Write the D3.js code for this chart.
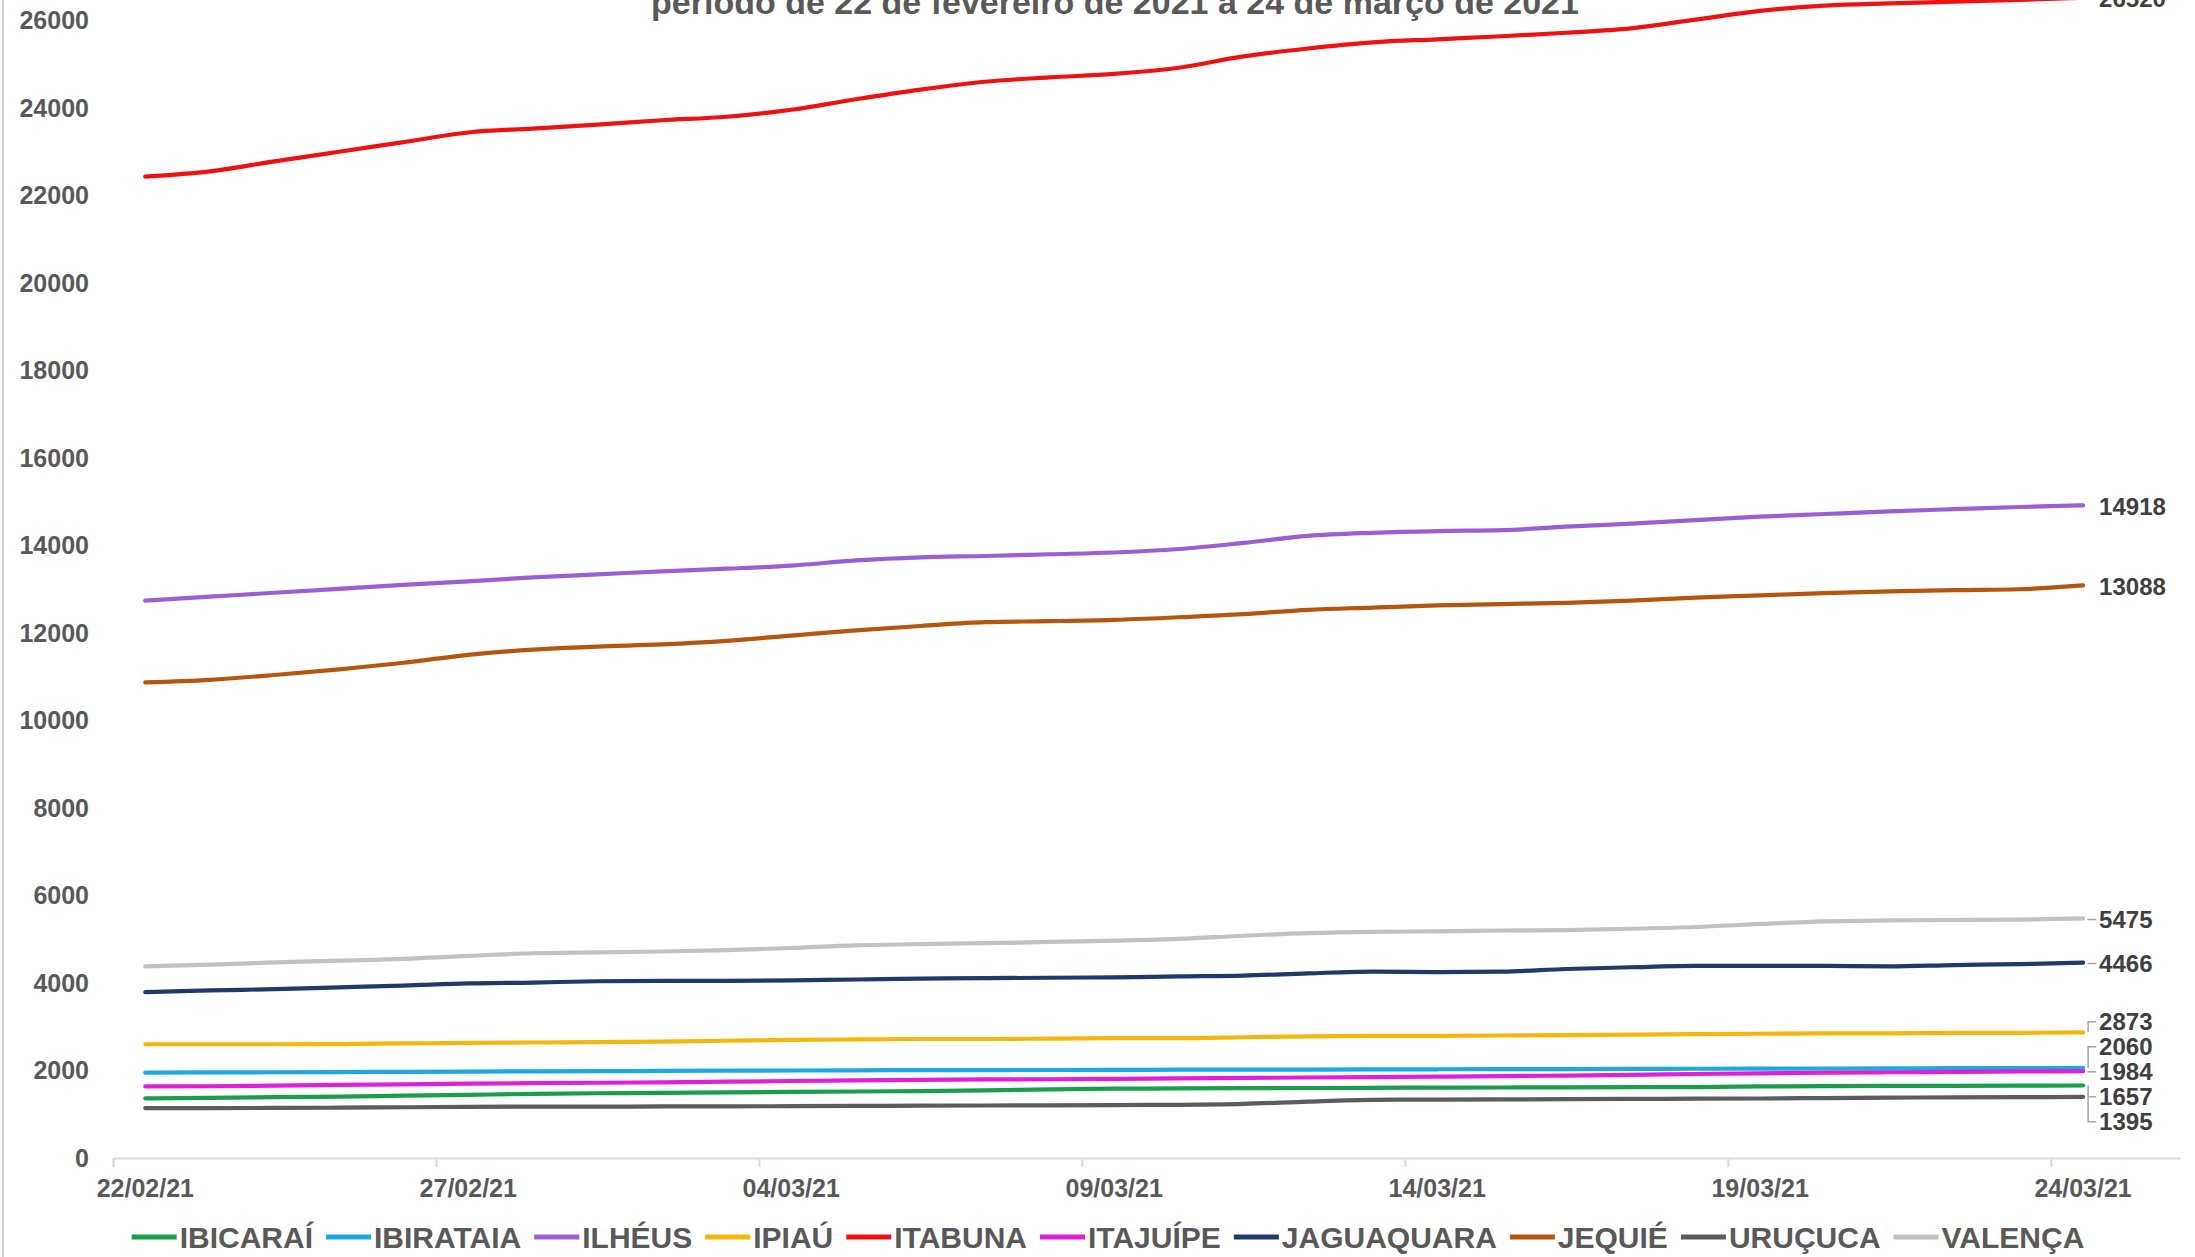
<!DOCTYPE html>
<html><head><meta charset="utf-8">
<script src="https://cdn.jsdelivr.net/npm/d3@7"></script>
<style>html,body{margin:0;padding:0;background:#fff;overflow:hidden}</style>
</head><body><svg id="c" width="2195" height="1257"></svg>
<script>
// ---------- DATA ----------
const dates = ["22/02/21","23/02/21","24/02/21","25/02/21","26/02/21","27/02/21","28/02/21",
  "01/03/21","02/03/21","03/03/21","04/03/21","05/03/21","06/03/21","07/03/21","08/03/21",
  "09/03/21","10/03/21","11/03/21","12/03/21","13/03/21","14/03/21","15/03/21","16/03/21",
  "17/03/21","18/03/21","19/03/21","20/03/21","21/03/21","22/03/21","23/03/21","24/03/21"];
const tickLabels = ["22/02/21","27/02/21","04/03/21","09/03/21","14/03/21","19/03/21","24/03/21"];
const yTicks = [0,2000,4000,6000,8000,10000,12000,14000,16000,18000,20000,22000,24000,26000];
const titleText = "período de 22 de fevereiro de 2021 a 24 de março de 2021";

const ibicarai   = [1365,1375,1390,1405,1425,1445,1465,1480,1490,1500,1510,1520,1530,1545,1570,1585,1590,1595,1600,1605,1610,1612,1615,1618,1622,1635,1645,1648,1650,1653,1657];
const ibirataia  = [1950,1955,1960,1965,1970,1975,1980,1985,1990,1995,2000,2005,2008,2010,2012,2015,2018,2020,2022,2025,2028,2030,2033,2036,2040,2043,2046,2050,2053,2056,2060];
const ilheus     = [12740,12830,12920,13010,13100,13180,13270,13340,13410,13470,13540,13660,13730,13760,13800,13840,13920,14060,14220,14290,14330,14350,14430,14500,14580,14660,14720,14780,14830,14880,14918];
const ipiau      = [2600,2600,2600,2605,2620,2630,2640,2650,2660,2680,2700,2710,2720,2720,2730,2740,2740,2760,2780,2790,2790,2800,2810,2820,2830,2840,2850,2850,2860,2860,2873];
const itabuna    = [22430,22550,22780,23000,23220,23440,23530,23620,23720,23800,23960,24200,24420,24600,24700,24780,24920,25180,25360,25500,25570,25640,25720,25820,26020,26220,26340,26390,26430,26470,26520];
const itajuipe   = [1635,1640,1655,1670,1685,1700,1710,1720,1730,1745,1760,1775,1785,1795,1800,1810,1820,1830,1840,1850,1860,1870,1885,1900,1920,1935,1950,1960,1970,1978,1984];
const jaguaquara = [3790,3830,3860,3900,3940,3990,4010,4040,4050,4050,4060,4080,4100,4110,4120,4130,4150,4170,4220,4260,4250,4260,4320,4360,4390,4390,4390,4380,4410,4430,4466];
const jequie     = [10870,10930,11040,11170,11320,11500,11620,11690,11740,11820,11940,12060,12160,12250,12270,12300,12360,12430,12530,12580,12630,12660,12690,12740,12810,12860,12910,12950,12980,13000,13088];
const urucuca    = [1140,1140,1145,1150,1160,1170,1175,1175,1178,1180,1185,1190,1195,1200,1205,1210,1215,1235,1290,1330,1335,1340,1345,1350,1355,1360,1370,1380,1385,1390,1395];
const valenca    = [4380,4420,4470,4510,4550,4620,4680,4700,4720,4750,4800,4860,4890,4910,4940,4970,5010,5080,5140,5170,5180,5200,5210,5240,5280,5350,5410,5430,5440,5450,5475];

const seriesNames  = ["IBICARAÍ","IBIRATAIA","ILHÉUS","IPIAÚ","ITABUNA","ITAJUÍPE","JAGUAQUARA","JEQUIÉ","URUÇUCA","VALENÇA"];
const seriesValues = [ibicarai,ibirataia,ilheus,ipiau,itabuna,itajuipe,jaguaquara,jequie,urucuca,valenca];
const seriesColors = ["#1b9e4b","#1ea8e0","#9b5fd3","#f5b60c","#ee1111","#e020d8","#1f3a68","#b5560f","#5c5c5c","#c2c2c2"];

// ---------- CHART ----------
const W = 2195, H = 1257;
const FONT = '"Liberation Sans", Arial, Helvetica, sans-serif';
const svg = d3.select("#c").style("font-family", FONT);

const x = d3.scaleLinear().domain([-0.5, 31.5]).range([113, 2180]);
const y = d3.scaleLinear().domain([0, 26000]).range([1158, 20.5]);

// left border
svg.append("line").attr("x1",3).attr("x2",3).attr("y1",0).attr("y2",H)
  .attr("stroke","#d4d4d4").attr("stroke-width",2);

// title (partially cut off at top, as in the reference)
svg.append("text").attr("x",1115).attr("y",14).attr("text-anchor","middle")
  .attr("font-size",34).attr("font-weight","bold").attr("fill","#595959").text(titleText);

// y axis labels
const yAxis = d3.axisLeft(y).tickValues(yTicks).tickSize(0).tickPadding(8).tickFormat(d3.format("d"));
const gy = svg.append("g").attr("transform","translate(97,0)").call(yAxis);
gy.select(".domain").remove();
gy.selectAll("text").attr("font-size",25).attr("font-weight","bold").attr("fill","#595959")
  .attr("font-family",FONT);

// x axis line + tick marks (ticks between categories)
const tickIdx = tickLabels.map(l => dates.indexOf(l));
const xAxis = d3.axisBottom(x).tickValues(tickIdx.map(i => i - 0.5)).tickSize(9).tickSizeOuter(0).tickFormat("");
const gx = svg.append("g").attr("transform","translate(0,1158)").call(xAxis);
gx.select(".domain").attr("stroke","#d9d9d9").attr("stroke-width",2);
gx.selectAll(".tick line").attr("stroke","#d9d9d9").attr("stroke-width",2);

// x tick labels centered on categories
svg.append("g").selectAll("text").data(tickLabels).join("text")
  .attr("x", l => x(dates.indexOf(l))).attr("y",1197)
  .attr("text-anchor","middle").attr("font-size",25).attr("font-weight","bold")
  .attr("fill","#595959").text(l => l);

// lines
const line = d3.line().x((d,i) => x(i)).y(d => y(d)).curve(d3.curveMonotoneX);
const series = seriesNames.map((n,i) => ({name:n, values:seriesValues[i], color:seriesColors[i]}));
svg.append("g").selectAll("path").data(series).join("path")
  .attr("d", s => line(s.values)).attr("fill","none")
  .attr("stroke", s => s.color).attr("stroke-width",4.2)
  .attr("stroke-linecap","round").attr("stroke-linejoin","round");

// data labels at last point, with simple overlap relaxation
const last = dates.length - 1;
const labels = series.map(s => {
  const v = s.values[last];
  return {v, py: y(v), ly: y(v) + 1};
});
const sorted = labels.slice().sort((a,b) => a.ly - b.ly);
const gap = 25;
for (let it = 0; it < 500; it++) {
  let moved = false;
  for (let i = 1; i < sorted.length; i++) {
    const d = sorted[i].ly - sorted[i-1].ly;
    if (d < gap - 0.01) {
      const p = (gap - d) / 2;
      sorted[i].ly += p; sorted[i-1].ly -= p; moved = true;
    }
  }
  if (!moved) break;
}
const lx = x(last);
svg.append("g").selectAll("path").data(labels.filter(l => l.v < 10000)).join("path")
  .attr("d", l => `M${lx+5},${l.py}V${l.ly}H${lx+13}`)
  .attr("fill","none").attr("stroke","#a6a6a6").attr("stroke-width",1.5);
svg.append("g").selectAll("text").data(labels).join("text")
  .attr("x", lx + 16).attr("y", l => l.ly).attr("dominant-baseline","central")
  .attr("font-size",24).attr("font-weight","bold").attr("fill","#404040")
  .text(l => l.v);

// legend
const lg = svg.append("g");
const items = lg.selectAll("g").data(series).join("g");
items.append("line").attr("x1",0).attr("x2",45).attr("y1",0).attr("y2",0)
  .attr("stroke", s => s.color).attr("stroke-width",5);
items.append("text").attr("x",48).attr("y",10.5).attr("font-size",30).attr("font-weight","bold")
  .attr("fill","#595959").text(s => s.name);
let cur = 0;
const offs = [];
items.each(function() {
  const tw = d3.select(this).select("text").node().getComputedTextLength();
  offs.push(cur);
  cur += 48 + tw + 13;
});
const total = cur - 13;
items.attr("transform", (s,i) => `translate(${offs[i]},0)`);
lg.attr("transform", `translate(${1108 - total/2},1237)`);
</script>
</body></html>
